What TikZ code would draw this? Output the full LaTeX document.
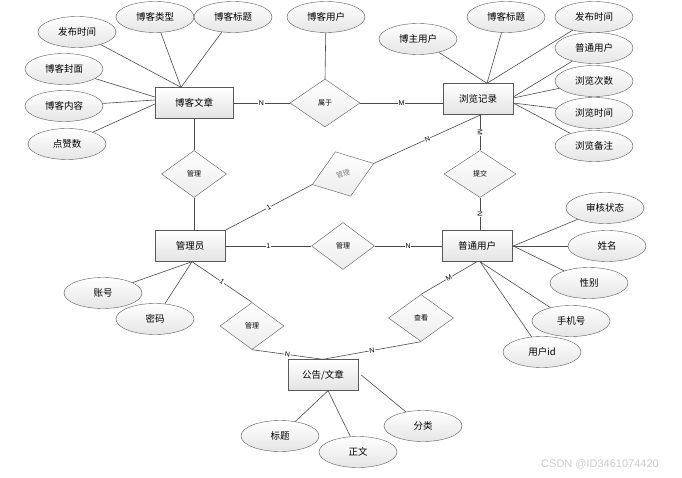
\documentclass[tikz,border=0pt]{standalone}
\usepackage{fontspec}
\setmainfont{Liberation Sans}
\newfontfamily\cjk{Noto Sans CJK SC}
\usetikzlibrary{shapes.geometric}

\begin{document}
\begin{tikzpicture}[x=1pt, y=-1pt,
        entity/.style={rectangle, draw=gray!70!black, top color=white, bottom color=gray!22, minimum width=70pt, minimum height=31pt, font=\cjk\fontsize{9.5}{11}\selectfont},
        attr/.style={ellipse, draw=gray!70!black, top color=white, bottom color=gray!20, minimum width=78pt, minimum height=31pt, inner sep=0pt, font=\cjk\fontsize{9.5}{11}\selectfont},
        rel/.style={diamond, draw=gray!70!black, top color=white, bottom color=gray!15, minimum width=65pt, minimum height=47pt, inner sep=0pt, font=\cjk\fontsize{7}{8}\selectfont},
        link/.style={draw=gray!60!black, line width=0.6pt},
        card/.style={fill=white, inner sep=0.6pt, font=\fontsize{7}{8}\selectfont, sloped}
    ]
        \useasboundingbox (0,0) rectangle (682,478);

        % Entities
        \node[entity, minimum width=78pt] (blog) at (194,103) {博客文章};
        \node[entity] (browse) at (478,99) {浏览记录};
        \node[entity] (admin) at (190,246) {管理员};
        \node[entity] (user) at (477,246) {普通用户};
        \node[entity] (notice) at (323,375) {公告/文章};

        % Relations
        \node[rel, minimum width=70pt, minimum height=48pt] (belong) at (325,103) {属于};
        \node[rel] (mgrblog) at (194,174) {管理};
        \node[rel, minimum width=72pt] (submit) at (480,174) {提交};
        \node[rel, minimum width=63pt] (mgruser) at (343,246) {管理};
        \node[rel, minimum width=64pt] (mgrnotice) at (252,326) {管理};
        \node[rel] (view) at (421,318) {查看};
        \node[rel, rotate=19, text=gray] (mgrbrowse) at (343,174) {管理};

        % Attributes of the blog article
        \node[attr] (btime) at (77,32) {发布时间};
        \node[attr] (btype) at (155,17) {博客类型};
        \node[attr] (btitle) at (233,17) {博客标题};
        \node[attr] (bcover) at (64,69) {博客封面};
        \node[attr] (btext) at (64,106) {博客内容};
        \node[attr] (blikes) at (67,144) {点赞数};
        \node[attr] (buser) at (326,17) {博客用户};
        \foreach \a in {btime, btype, btitle} {
            \draw[link] (\a) -- ([xshift=-13pt]blog.north);
        }
        \draw[link] (bcover) -- ([yshift=6pt]blog.west);
        \draw[link] (btext) -- ([yshift=3pt]blog.west);
        \draw[link] (blikes) -- ([yshift=-1pt]blog.west);
        \draw[link] (buser) -- (belong.north);

        % Attributes of the browse record
        \node[attr] (rowner) at (418,39) {博主用户};
        \node[attr] (rtitle) at (506,17) {博客标题};
        \node[attr] (rtime) at (594,17) {发布时间};
        \node[attr] (ruser) at (594,48) {普通用户};
        \node[attr] (rcount) at (594,81) {浏览次数};
        \node[attr] (rview) at (594,113) {浏览时间};
        \node[attr] (rnote) at (594,146) {浏览备注};
        \foreach \a in {rowner, rtitle, rtime} {
            \draw[link] (\a) -- ([xshift=9pt]browse.north);
        }
        \draw[link] (ruser) -- ([yshift=2pt]browse.east);
        \draw[link] (rcount) -- ([yshift=1pt]browse.east);
        \foreach \a in {rview, rnote} {
            \draw[link] (\a) -- ([yshift=-4pt]browse.east);
        }

        % Attributes of the administrator
        \node[attr] (aacc) at (103,293) {账号};
        \node[attr] (apwd) at (155,319) {密码};
        \foreach \a in {aacc, apwd} {
            \draw[link] (\a) -- ([xshift=2pt]admin.south);
        }

        % Attributes of the user
        \node[attr] (ustate) at (605,208) {审核状态};
        \node[attr] (uname) at (607,246) {姓名};
        \node[attr] (usex) at (589,283) {性别};
        \node[attr] (uphone) at (571,321) {手机号};
        \node[attr] (uid) at (542,352) {用户id};
        \foreach \a in {ustate, uname, usex} {
            \draw[link] (\a) -- ([xshift=1pt]user.east);
        }
        \foreach \a in {uphone, uid} {
            \draw[link] (\a) -- ([xshift=3pt]user.south);
        }

        % Attributes of the notice
        \node[attr] (ntitle) at (280,436) {标题};
        \node[attr] (nbody) at (358,452) {正文};
        \node[attr] (nkind) at (423,426) {分类};
        \foreach \a in {ntitle, nbody} {
            \draw[link] (\a) -- ([xshift=5pt]notice.south);
        }
        \draw[link] (nkind) -- ([xshift=3pt]notice.east);

        % Relationships
        \draw[link] (blog.east) -- (belong.west) node[midway, card] {N};
        \draw[link] (belong.east) -- (belong.east -| browse.west) node[midway, card] {M};
        \draw[link] (submit.north |- browse.south) -- (submit.north) node[midway, card] {M};
        \draw[link] (submit.south) -- (submit.south |- user.north) node[midway, card] {N};
        \draw[link] (blog.south) -- (mgrblog.north);
        \draw[link] (mgrblog.south) -- (mgrblog.south |- admin.north);
        \draw[link] (admin.north east) -- (mgrbrowse.west) node[midway, card] {1};
        \draw[link] (mgrbrowse.east) -- ([xshift=3pt]browse.south) node[midway, card] {N};
        \draw[link] (admin.east) -- (mgruser.west) node[midway, card] {1};
        \draw[link] (mgruser.east) -- (user.west) node[midway, card] {N};
        \draw[link] ([xshift=2pt]admin.south) -- (mgrnotice.north) node[midway, card] {1};
        \draw[link] (mgrnotice.south) -- (notice.north) node[midway, card] {N};
        \draw[link] (view.south) -- (notice.north) node[midway, card] {N};
        \draw[link] (user.south) -- (view.north) node[midway, card] {M};

        % Watermark
        \node[text=gray!40, font=\fontsize{11}{13}\selectfont] (mark) at (600,464) {CSDN @ID3461074420};
    \end{tikzpicture}
\end{document}
